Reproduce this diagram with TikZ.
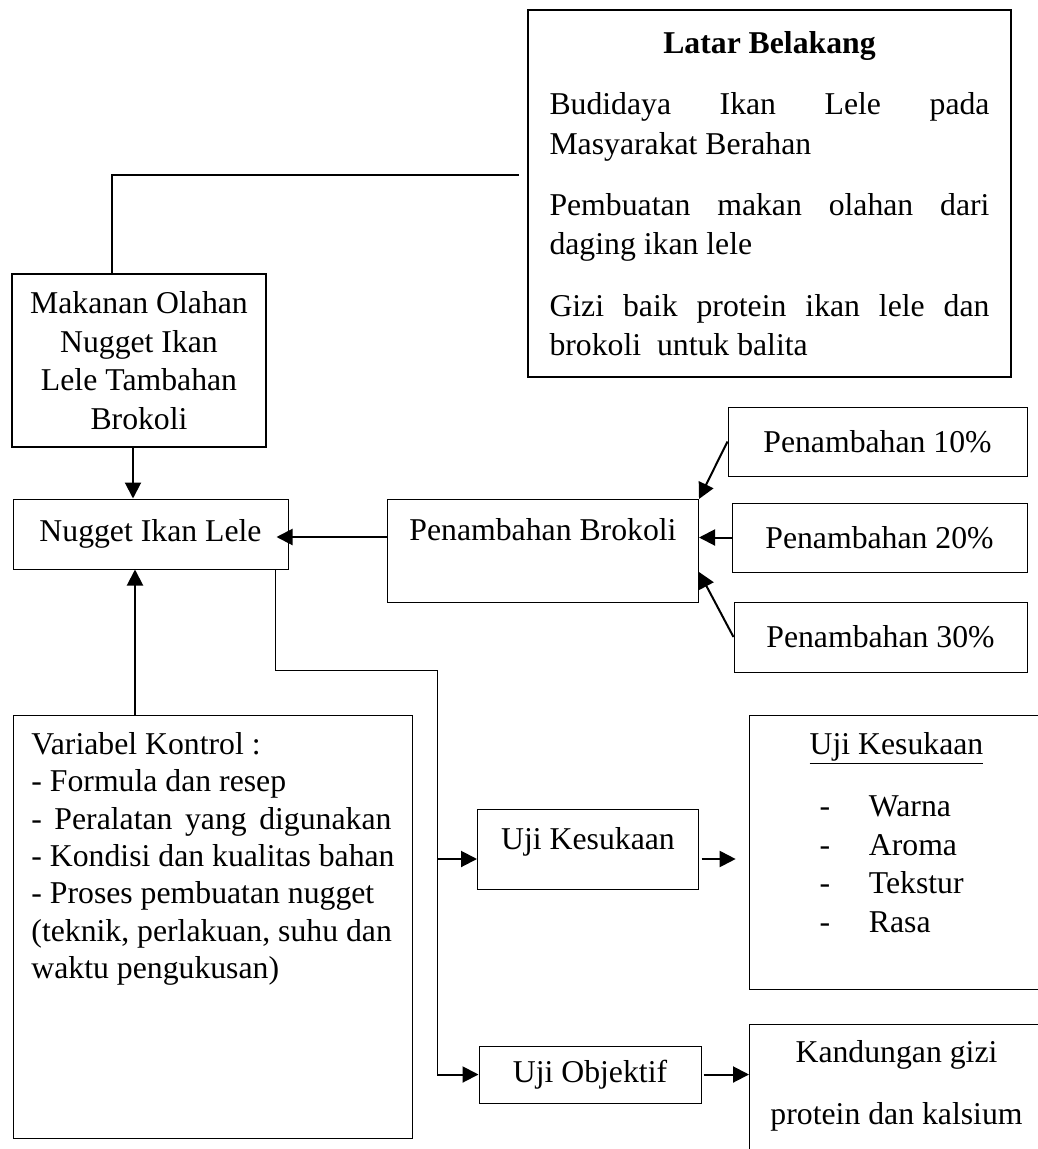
\documentclass[tikz,border=0pt]{standalone}
\usepackage{fontspec}
\setmainfont{Liberation Serif}
\usetikzlibrary{arrows.meta}

\tikzset{every picture/.style={line width=0.75pt}}
\tikzset{
	txt/.style={font=\fontsize{23.8}{29}\selectfont},
	thickbox/.style={draw, line width=2.2pt, inner sep=0pt, txt},
	thinbox/.style={draw, line width=0.75pt, inner sep=0pt, txt},
	link/.style={line width=1.5pt},
	thinlink/.style={line width=0.75pt},
	arr/.style={line width=1.5pt, -{Triangle[length=12pt,width=12pt]}}}

\begin{document}
\begin{tikzpicture}[x=0.75pt,y=0.75pt,yscale=-1,xscale=1]
	\useasboundingbox (0,0) rectangle (1038,1149);

	%Shape: Rectangle (latar belakang)
	\node[thickbox, minimum width=362.25pt, minimum height=275.25pt, text width=330pt, align=justify, font=\fontsize{23.8}{29.5}\selectfont] (latar) at (769.5,193.5) {\setlength{\parindent}{0pt}\setlength{\parskip}{16.5pt}%
		{\centering\textbf{Latar Belakang}\par}
		Budidaya Ikan Lele pada\linebreak Masyarakat Berahan\par
		Pembuatan makan olahan dari\linebreak daging ikan lele\par
		Gizi baik protein ikan lele dan\linebreak brokoli\ \ untuk balita\par};
	%Shape: Rectangle
	\node[thickbox, minimum width=190.5pt, minimum height=129.75pt, align=center] (makanan) at (139,360.5) {Makanan Olahan\\Nugget Ikan\\Lele Tambahan\\Brokoli};
	%Shape: Rectangle
	\node[thinbox, minimum width=206.25pt, minimum height=52.5pt] (nugget) at (150.5,534) {Nugget Ikan Lele};
	%Shape: Rectangle
	\node[thinbox, anchor=north west, minimum width=233.25pt, text height=30.75pt, text depth=46.5pt] (brokoli) at (387,499) {Penambahan Brokoli};
	%Shape: Rectangle
	\node[thinbox, minimum width=224.25pt, minimum height=51.75pt] (p10) at (877.5,441.5) {Penambahan 10\%};
	\node[thinbox, minimum width=221.25pt, minimum height=51.75pt] (p20) at (879.5,537.5) {Penambahan 20\%};
	\node[thinbox, minimum width=219.75pt, minimum height=52.5pt] (p30) at (880.5,637) {Penambahan 30\%};
	%Shape: Rectangle (variabel kontrol)
	\node[thinbox, anchor=north west, minimum width=299.25pt, text height=29.25pt, text depth=288pt, font=\fontsize{23.8}{28}\selectfont] (variabel) at (13,715) {\begin{tabular}[t]{@{}l@{}}
		Variabel Kontrol :\\
		- Formula dan resep\\
		\makebox[270pt][s]{- Peralatan yang digunakan}\\
		- Kondisi dan kualitas bahan\\
		- Proses pembuatan nugget\\
		(teknik, perlakuan, suhu dan\\
		waktu pengukusan)
	\end{tabular}};
	%Shape: Rectangle
	\node[thinbox, anchor=north west, minimum width=165.75pt, text height=30pt, text depth=30pt] (ujiK) at (477,809) {Uji Kesukaan};
	\node[thinbox, minimum width=166.5pt, minimum height=42.75pt] (ujiO) at (590,1074.5) {Uji Objektif};
	%Shape: Rectangle (cut by the page edge)
	\node[thinbox, anchor=north west, minimum width=220.5pt, text height=29.25pt, text depth=176.25pt] (kesukaan) at (749,715) {\begin{tabular}[t]{@{\hspace{7.5pt}}l@{\hspace{29pt}}l@{}}
		\multicolumn{2}{@{}c@{}}{\underline{Uji Kesukaan}}\\[17.5pt]
		- & Warna\\
		- & Aroma\\
		- & Tekstur\\
		- & Rasa
	\end{tabular}};
	\node[thinbox, anchor=north west, minimum width=220.5pt, text height=28.5pt, text depth=73.5pt] (kandungan) at (749,1024) {\begin{tabular}[t]{@{}c@{}}
		Kandungan gizi\\[17.5pt]
		protein dan kalsium
	\end{tabular}};

	%Straight Lines
	\draw[link] ([xshift=-6pt]latar.west |- 0,175) -| (112,0 |- makanan.north);
	\coordinate (split) at (437,670);
	\draw[thinlink] (275,0 |- nugget.south) |- (split) -- (split |- ujiO.west);

	%Arrows
	\draw[arr] (133,0 |- makanan.south) -- (133,0 |- nugget.north);
	\draw[arr] (135,0 |- variabel.north) -- (135,0 |- nugget.south);
	\draw[arr] (brokoli.west |- 0,537) -- ([xshift=-9pt]nugget.east |- 0,537);
	\draw[arr] (p10.west) -- (brokoli.north east);
	\draw[arr] (p20.west) -- (brokoli.east |- p20.west);
	\draw[arr] (p30.west) -- (brokoli.east |- 0,572);
	\draw[arr] (split |- 0,859) -- (ujiK.west |- 0,859);
	\draw[arr] (split |- ujiO.west) -- (ujiO.west);
	\draw[arr] ([xshift=2pt]ujiK.east |- 0,859) -- ([xshift=-10pt]kesukaan.west |- 0,859);
	\draw[arr] ([xshift=1.5pt]ujiO.east) -- (kandungan.west |- ujiO.east);

\end{tikzpicture}
\end{document}
